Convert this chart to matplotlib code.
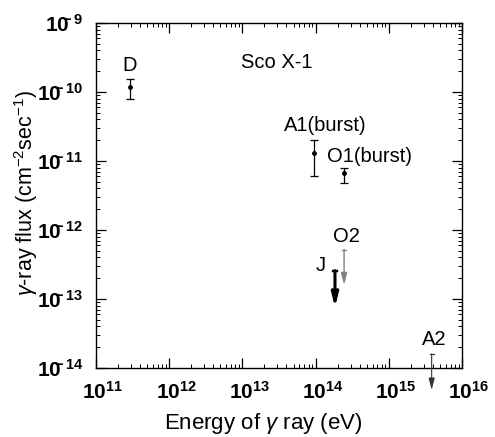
import matplotlib
matplotlib.use("Agg")
import math
import matplotlib.pyplot as plt
import matplotlib.transforms as mtrans
from matplotlib.ticker import LogLocator, FuncFormatter, NullFormatter

plt.rcParams['font.family'] = ['Liberation Sans', 'DejaVu Sans']
plt.rcParams['mathtext.fontset'] = 'custom'
plt.rcParams['mathtext.rm'] = 'Liberation Sans'
plt.rcParams['mathtext.it'] = 'Liberation Sans:italic'
plt.rcParams['mathtext.bf'] = 'Liberation Sans:bold'

# Measured points with error bars
pt_names = ["D", "A1", "O1"]
pt_energy = [2.9e11, 9.5e13, 2.45e14]
pt_flux = [1.2e-10, 1.32e-11, 6.6e-12]
pt_err_lo = [8.0e-11, 6.0e-12, 4.8e-12]
pt_err_hi = [1.55e-10, 2.0e-11, 7.8e-12]

# Upper limits (arrow start, arrow tip)
ul_names = ["O2", "J", "A2"]
ul_energy = [2.45e14, 1.84e14, 3.85e15]
ul_flux = [5.2e-13, 2.57e-13, 1.6e-14]
ul_tip = [1.6e-13, 7.6e-14, 4.8e-15]

labels = ["D", "A1(burst)", "O1(burst)", "O2", "J", "A2", "Sco X-1"]
label_x = [2.9e11, 1.35e14, 5.4e14, 2.6e14, 1.17e14, 4.2e15, 2.96e13]
label_y = [2.4e-10, 3.3e-11, 1.17e-11, 8.1e-13, 3.1e-13, 2.6e-14, 2.72e-10]

fig = plt.figure(figsize=(4.95, 4.37), dpi=100)
ax = fig.add_axes([96/495, 1 - 368/437, 366/495, 345/437])
ax.set_xscale('log')
ax.set_yscale('log')
ax.set_xlim(1e11, 1e16)
ax.set_ylim(1e-14, 1e-9)

for e, f, lo, hi in zip(pt_energy, pt_flux, pt_err_lo, pt_err_hi):
    ax.errorbar([e], [f], yerr=[[f - lo], [hi - f]], fmt='o', color='black',
                markersize=2.5, capsize=3, elinewidth=0.9, capthick=0.9)

styles = {"O2": dict(color='#808080', lw=1.0, hw=0.18, hl=0.7),
          "J": dict(color='black', lw=2.2, hw=0.2, hl=0.8),
          "A2": dict(color='#333333', lw=0.8, hw=0.18, hl=0.7)}
for n, e, f, t in zip(ul_names, ul_energy, ul_flux, ul_tip):
    s = styles[n]
    ax.annotate('', xy=(e, t), xytext=(e, f), annotation_clip=False,
                arrowprops=dict(arrowstyle='-|>,head_width=%g,head_length=%g' % (s['hw'], s['hl']),
                                mutation_scale=10, color=s['color'], lw=s['lw'],
                                shrinkA=0, shrinkB=0))
    ax.plot([e / 1.07, e * 1.07], [f, f], color=s['color'], lw=max(s['lw'] * 0.8, 0.9), clip_on=False)

for txt, x, y in zip(labels, label_x, label_y):
    ax.text(x, y, txt, ha='center', va='center', fontsize=14.5)

ax.xaxis.set_major_locator(LogLocator(base=10, numticks=10))
ax.yaxis.set_major_locator(LogLocator(base=10, numticks=10))
ax.xaxis.set_minor_locator(LogLocator(base=10, subs=range(2, 10), numticks=20))
ax.yaxis.set_minor_locator(LogLocator(base=10, subs=range(2, 10), numticks=20))
ax.xaxis.set_minor_formatter(NullFormatter())
ax.yaxis.set_minor_formatter(NullFormatter())

def fmt(v, pos):
    ex = int(round(math.log10(v)))
    if ex < 0:
        return r'$\mathbf{10^{\!\!\!\!-%d}}$' % (-ex)
    return r'$\mathbf{10^{%d}}$' % ex

ax.xaxis.set_major_formatter(FuncFormatter(fmt))
ax.yaxis.set_major_formatter(FuncFormatter(fmt))
ax.tick_params(which='both', direction='in', top=True, right=True, labelsize=15)
ax.tick_params(which='major', length=7, width=0.9)
ax.tick_params(which='minor', length=3, width=0.7)
ax.tick_params(axis='x', pad=9)
ax.tick_params(axis='y', pad=9)
for sp in ax.spines.values():
    sp.set_linewidth(1.0)

shift = mtrans.ScaledTranslation(7 / 100, 0, fig.dpi_scale_trans)
for lbl in ax.get_xticklabels():
    lbl.set_transform(lbl.get_transform() + shift)

ax.set_xlabel(r'Energy of $\gamma$ ray (eV)', fontsize=16)
ax.set_ylabel(r'$\gamma$-ray flux (cm$^{-2}$sec$^{-1}$)', fontsize=15.5)
ax.xaxis.set_label_coords((263 - 96) / 366, -(411 - 368) / 345)
ax.yaxis.set_label_coords(-(96 - 40) / 366, (368 - 193) / 345)

fig.savefig('out.png', dpi=100)
